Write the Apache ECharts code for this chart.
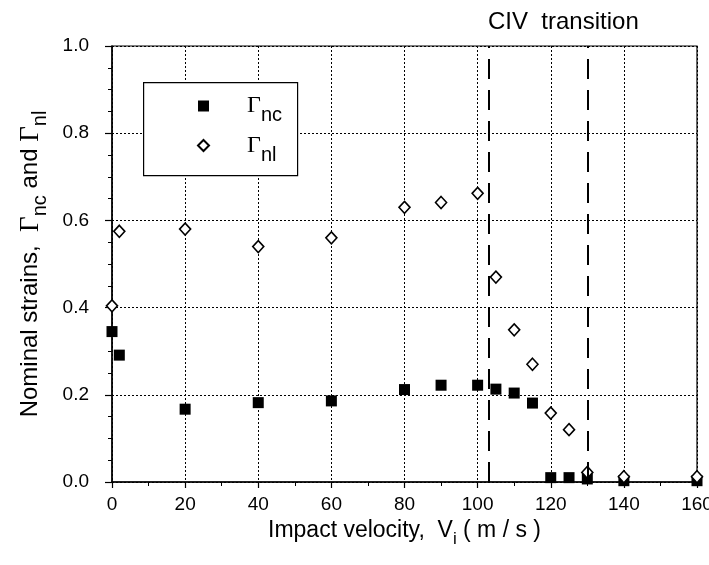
<!DOCTYPE html>
<html>
<head>
<meta charset="utf-8">
<script src="https://cdn.jsdelivr.net/npm/echarts@6/dist/echarts.min.js"></script>
<style>html,body{margin:0;padding:0;background:#fff;}#c{width:709px;height:565px;}</style>
</head>
<body>
<div id="c"></div>
<script>
// Data
const velocityNc = [0, 2, 20, 40, 60, 80, 90, 100, 105, 110, 115, 120, 125, 130, 140, 160];
const gammaNc    = [0.345, 0.291, 0.167, 0.182, 0.186, 0.212, 0.222, 0.222, 0.213, 0.204, 0.181, 0.010, 0.010, 0.007, 0.003, 0.003];
const velocityNl = [0, 2, 20, 40, 60, 80, 90, 100, 105, 110, 115, 120, 125, 130, 140, 160];
const gammaNl    = [0.404, 0.575, 0.580, 0.540, 0.560, 0.630, 0.641, 0.662, 0.470, 0.349, 0.270, 0.158, 0.120, 0.022, 0.012, 0.012];
const transitionBounds = [103, 130];
const xTicks = [0, 20, 40, 60, 80, 100, 120, 140, 160];
const yTicks = [0.0, 0.2, 0.4, 0.6, 0.8, 1.0];

const sans = 'Liberation Sans';
const serif = 'Liberation Serif';
const richName = {
  t: {fontSize: 24, fontFamily: sans, color: '#000'},
  g: {fontSize: 27, fontFamily: serif, color: '#000'},
  s: {fontSize: 20, fontFamily: sans, color: '#000', padding: [19, 0, 0, 0]}
};

const chart = echarts.init(document.getElementById('c'), null, {renderer: 'canvas'});
chart.setOption({
  animation: false,
  backgroundColor: '#fff',
  title: {
    text: 'CIV  transition',
    left: 483, top: 5,
    textStyle: {fontFamily: sans, fontSize: 24, fontWeight: 'normal', color: '#000'}
  },
  grid: {left: 112, right: 12, top: 46, bottom: 83, show: true, borderColor: '#000', borderWidth: 1.2,
         backgroundColor: 'transparent', outerBoundsMode: 'none', containLabel: false},
  legend: {
    orient: 'vertical',
    left: 192, top: 89,
    itemWidth: 11, itemHeight: 11,
    itemGap: 8,
    z: 20,
    data: ['nc', 'nl'],
    formatter: n => '{g|Γ}{s|' + n + '}',
    textStyle: {
      rich: {
        g: {fontSize: 24, fontFamily: serif, color: '#000', padding: [0, 0, 0, 33]},
        s: {fontSize: 20, fontFamily: sans, color: '#000', padding: [19, 0, 0, 0]}
      }
    }
  },
  graphic: [{
    type: 'rect', left: 143, top: 82,
    shape: {width: 154, height: 93},
    style: {fill: '#fff', stroke: '#000', lineWidth: 1.2},
    z: 2
  }],
  xAxis: {
    type: 'value', min: xTicks[0], max: xTicks[xTicks.length - 1], interval: 20,
    name: 'Impact velocity,  {t|V}{s|i}{t| ( m / s )}',
    nameLocation: 'middle', nameGap: 19,
    nameTextStyle: {fontFamily: sans, fontSize: 23, color: '#000', rich: {
      t: {fontSize: 23, fontFamily: sans, color: '#000'},
      s: {fontSize: 17, fontFamily: sans, color: '#000', padding: [17, 0, 0, 0]}
    }},
    axisLine: {lineStyle: {color: '#000', width: 1.5}},
    axisTick: {show: true, length: 6, inside: false, lineStyle: {color: '#000', width: 1.2}},
    minorTick: {show: true, splitNumber: 2, length: 4, lineStyle: {color: '#000', width: 1}},
    axisLabel: {fontFamily: sans, fontSize: 19, color: '#000', margin: 13},
    splitLine: {show: true, lineStyle: {color: '#000', type: [2, 2], width: 1}}
  },
  yAxis: {
    type: 'value', min: yTicks[0], max: yTicks[yTicks.length - 1], interval: 0.2,
    name: '{t|Nominal strains,  }{g|Γ}{s|nc}{t| and }{g|Γ}{s|nl}',
    nameLocation: 'middle', nameGap: 62,
    nameTextStyle: {rich: richName},
    axisLine: {lineStyle: {color: '#000', width: 1.5}},
    axisTick: {show: true, length: 7, inside: false, lineStyle: {color: '#000', width: 1.2}},
    minorTick: {show: true, splitNumber: 4, length: 4, lineStyle: {color: '#000', width: 1}},
    axisLabel: {fontFamily: sans, fontSize: 19, color: '#000', margin: 23, formatter: v => v.toFixed(1)},
    splitLine: {show: true, lineStyle: {color: '#000', type: [2, 2], width: 1}}
  },
  series: [
    {
      name: 'nc', type: 'scatter', clip: false,
      symbol: 'rect', symbolSize: 11,
      itemStyle: {color: '#000', opacity: 1},
      data: velocityNc.map((v, i) => [v, gammaNc[i]]),
      markLine: {
        silent: true, symbol: 'none', label: {show: false},
        lineStyle: {color: '#000', width: 2, type: [20, 11], opacity: 1},
        data: transitionBounds.map(b => ({xAxis: b}))
      },
      z: 3
    },
    {
      name: 'nl', type: 'scatter', clip: false,
      symbol: 'diamond', symbolSize: [11, 12],
      itemStyle: {color: '#fff', borderColor: '#000', borderWidth: 1.6, opacity: 1},
      data: velocityNl.map((v, i) => [v, gammaNl[i]]),
      z: 4
    }
  ]
});
</script>
</body>
</html>
